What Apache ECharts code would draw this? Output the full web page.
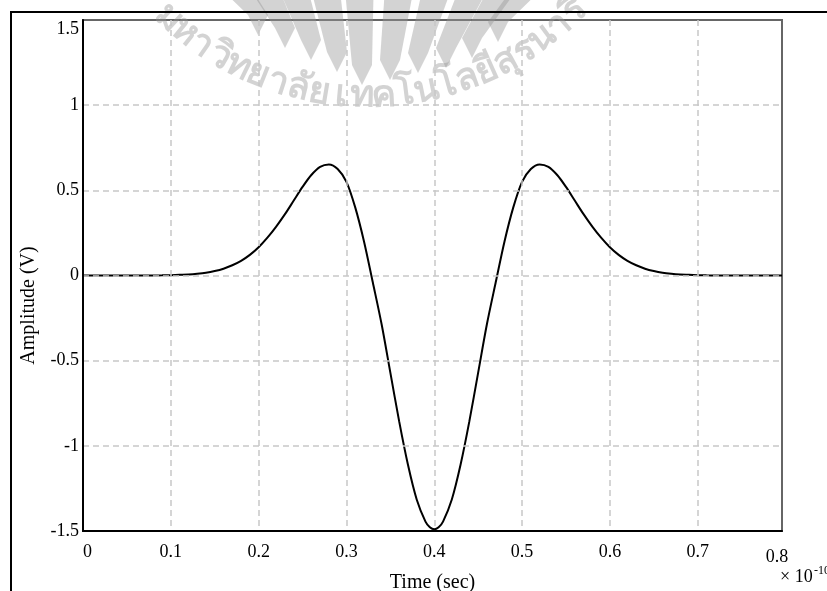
<!DOCTYPE html>
<html><head><meta charset="utf-8">
<script src="https://cdn.jsdelivr.net/npm/echarts@6/dist/echarts.min.js"></script>
<style>html,body{margin:0;padding:0;background:#fff}#c{width:827px;height:591px}</style>
</head><body><div id="c"></div>
<script>
// ---- data ----
const times = [0,0.01,0.02,0.03,0.04,0.05,0.06,0.07,0.08,0.09,
  0.10,0.11,0.12,0.13,0.14,0.15,0.16,0.17,0.18,0.19,
  0.20,0.21,0.22,0.23,0.24,0.25,0.26,0.27,0.28,0.29,
  0.30,0.31,0.32,0.33,0.34,0.35,0.36,0.37,0.38,0.39,0.395,
  0.40,0.405,0.41,0.42,0.43,0.44,0.45,0.46,0.47,0.48,0.49,
  0.50,0.51,0.52,0.53,0.54,0.55,0.56,0.57,0.58,0.59,
  0.60,0.61,0.62,0.63,0.64,0.65,0.66,0.67,0.68,0.69,
  0.70,0.71,0.72,0.73,0.74,0.75,0.76,0.77,0.78,0.79,0.796];
const amplitudes = [0,0,0,0,0,0,0,0,0.0005,0.001,
  0.002,0.004,0.006,0.010,0.016,0.026,0.040,0.060,0.086,0.121,
  0.166,0.222,0.287,0.360,0.440,0.520,0.590,0.638,0.652,0.625,
  0.550,0.400,0.200,-0.040,-0.285,-0.570,-0.855,-1.110,-1.315,-1.445,-1.478,
  -1.490,-1.478,-1.445,-1.315,-1.110,-0.855,-0.570,-0.285,-0.040,0.200,0.400,
  0.550,0.625,0.652,0.638,0.590,0.520,0.440,0.360,0.287,0.222,
  0.166,0.121,0.086,0.060,0.040,0.026,0.016,0.010,0.006,0.004,
  0.002,0.001,0.0005,0,0,0,0,0,0,0,0];
const xTickLabels = ['0','0.1','0.2','0.3','0.4','0.5','0.6','0.7','0.8'];
const yTickLabels = ['-1.5','-1','-0.5','0','0.5','1','1.5'];
const xAxisTitle = 'Time (sec)';
const yAxisTitle = 'Amplitude (V)';
const xScaleBase = '× 10';
const xScaleExp = '-10';
const watermarkClusters = ['ม','ห','า','วิ','ท','ย','า','ลั','ย','เ','ท','ค','โ','น','โ','ล','ยี','สุ','ร','น','า','รี'];

// ---- chart ----
const serif = '"Liberation Serif","Times New Roman",serif';
const chart = echarts.init(document.getElementById('c'), null, {renderer: 'canvas'});

const graphics = [];
graphics.push({type: 'rect', z: 100, shape: {x: 11, y: 12, width: 1000, height: 1000},
  style: {fill: 'none', stroke: '#000', lineWidth: 2}, silent: true});
graphics.push({type: 'text', z: 100, x: 780, y: 577,
  style: {text: xScaleBase, font: '18px ' + serif, fill: '#000', textAlign: 'left', textVerticalAlign: 'middle'}});
graphics.push({type: 'text', z: 100, x: 814, y: 571,
  style: {text: xScaleExp, font: '12px ' + serif, fill: '#000', textAlign: 'left', textVerticalAlign: 'middle'}});

// watermark logo (fan of blades)
const wmColor = 'rgba(150,150,150,0.42)';
const tips = [[258,35],[285,48],[311,60],[337,72],[362,85],[390,80],[418,73],[446,68],[472,58],[498,42]];
const P = [368, 300];
tips.forEach(function (t) {
  const k = (P[1] + 5) / (P[1] - t[1]);
  const topX = P[0] + (t[0] - P[0]) * k;
  const hw = 14;
  graphics.push({type: 'polygon', z: 1, silent: true,
    shape: {points: [[topX - hw, -5], [topX + hw, -5], [t[0] + 10, t[1] - 20], [t[0], t[1]], [t[0] - 10, t[1] - 20]]},
    style: {fill: wmColor}});
});
// watermark text on arc
const C = [368, -196], R = 292;
const a0 = 133, a1 = 45;
watermarkClusters.forEach(function (ch, i) {
  const th = a0 + (a1 - a0) * i / (watermarkClusters.length - 1);
  const rad = th * Math.PI / 180;
  graphics.push({type: 'text', z: 1, silent: true,
    x: C[0] + R * Math.cos(rad), y: C[1] + R * Math.sin(rad),
    rotation: (90 - th) * Math.PI / 180,
    style: {text: ch, font: 'bold 37px "Noto Sans","DejaVu Sans",sans-serif', fill: wmColor,
      textAlign: 'center', textVerticalAlign: 'middle'}});
});

const option = {
  animation: false,
  backgroundColor: '#fff',
  grid: {left: 83, top: 20, width: 699, height: 511, outerBoundsMode: 'none', containLabel: false,
    show: true, borderColor: '#666', borderWidth: 2, backgroundColor: 'transparent'},
  xAxis: {
    type: 'value', min: 0, max: 0.796, interval: 0.1, z: 5,
    axisLine: {show: true, onZero: false, lineStyle: {color: '#000', width: 2}},
    axisTick: {show: false},
    splitLine: {show: true, showMinLine: false, showMaxLine: false, lineStyle: {color: '#c8c8c8', width: 1.5, type: [6, 4]}},
    axisLabel: {
      margin: 12, color: '#000', fontFamily: serif, fontSize: 18, alignMinLabel: 'left',
      formatter: function (v) {
        const lbl = xTickLabels[Math.round(v * 10)];
        return v > 0.75 ? '{m|' + lbl + '}' : lbl;
      },
      rich: {m: {fontFamily: serif, fontSize: 18, color: '#000', padding: [5, 10, 0, 0]}}
    },
    name: xAxisTitle, nameLocation: 'middle', nameGap: 42,
    nameTextStyle: {fontFamily: serif, fontSize: 20, color: '#000'}
  },
  yAxis: {
    type: 'value', min: -1.5, max: 1.5, interval: 0.5, z: 5,
    axisLine: {show: true, onZero: false, lineStyle: {color: '#000', width: 2}},
    axisTick: {show: false},
    splitLine: {show: true, showMinLine: false, showMaxLine: false, lineStyle: {color: '#c8c8c8', width: 1.5, type: [6, 4]}},
    axisLabel: {
      margin: 4, color: '#000', fontFamily: serif, fontSize: 18, verticalAlignMaxLabel: 'top',
      formatter: function (v) { return yTickLabels[Math.round((v + 1.5) / 0.5)]; }
    },
    name: yAxisTitle, nameLocation: 'middle', nameGap: 44,
    nameTextStyle: {fontFamily: serif, fontSize: 20, color: '#000', padding: [0, 60, 0, 0]}
  },
  series: [{
    type: 'line', z: 2, showSymbol: false, smooth: 0.3, clip: false,
    data: times.map(function (t, i) { return [t, amplitudes[i]]; }),
    lineStyle: {color: '#000', width: 2}
  }],
  graphic: graphics
};
chart.setOption(option);
</script>
</body></html>
